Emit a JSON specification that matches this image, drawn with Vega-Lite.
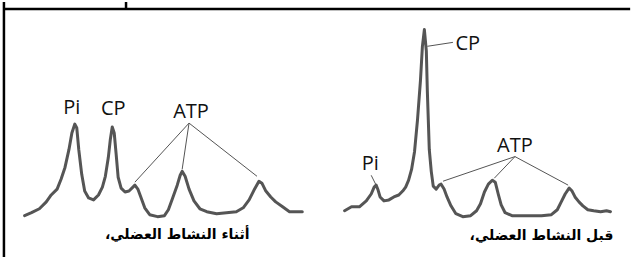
{
  "$schema": "https://vega.github.io/schema/vega-lite/v6.json",
  "autosize": {"type": "fit", "contains": "padding"},
  "width": 640,
  "height": 259,
  "padding": 0,
  "background": "white",
  "config": {"view": {"stroke": null}},
  "datasets": {
    "spectra": [
      {"s":"during","x":25,"y":217},{"s":"during","x":32,"y":214},{"s":"during","x":40,"y":210},{"s":"during","x":47,"y":203},{"s":"during","x":52,"y":196},{"s":"during","x":58,"y":190},{"s":"during","x":62,"y":180},{"s":"during","x":66,"y":168},{"s":"during","x":70,"y":150},{"s":"during","x":73,"y":133},{"s":"during","x":76,"y":124},{"s":"during","x":78,"y":128},{"s":"during","x":80,"y":150},{"s":"during","x":83,"y":175},{"s":"during","x":86,"y":192},{"s":"during","x":90,"y":199},{"s":"during","x":95,"y":201},{"s":"during","x":100,"y":196},{"s":"during","x":104,"y":188},{"s":"during","x":107,"y":177},{"s":"during","x":110,"y":158},{"s":"during","x":112,"y":140},{"s":"during","x":114,"y":127},{"s":"during","x":116,"y":133},{"s":"during","x":118,"y":155},{"s":"during","x":120,"y":178},{"s":"during","x":123,"y":189},{"s":"during","x":127,"y":193},{"s":"during","x":131,"y":192},{"s":"during","x":135,"y":188},{"s":"during","x":137,"y":186},{"s":"during","x":140,"y":190},{"s":"during","x":143,"y":198},{"s":"during","x":147,"y":209},{"s":"during","x":152,"y":216},{"s":"during","x":160,"y":218},{"s":"during","x":167,"y":217},{"s":"during","x":171,"y":211},{"s":"during","x":175,"y":200},{"s":"during","x":180,"y":186},{"s":"during","x":183,"y":176},{"s":"during","x":185,"y":172},{"s":"during","x":188,"y":177},{"s":"during","x":192,"y":190},{"s":"during","x":197,"y":202},{"s":"during","x":203,"y":210},{"s":"during","x":210,"y":213},{"s":"during","x":220,"y":215},{"s":"during","x":230,"y":214},{"s":"during","x":240,"y":213},{"s":"during","x":247,"y":209},{"s":"during","x":253,"y":201},{"s":"during","x":258,"y":191},{"s":"during","x":263,"y":182},{"s":"during","x":266,"y":184},{"s":"during","x":270,"y":192},{"s":"during","x":275,"y":198},{"s":"during","x":280,"y":203},{"s":"during","x":287,"y":208},{"s":"during","x":294,"y":213},{"s":"during","x":300,"y":213},{"s":"during","x":307,"y":213},
      {"s":"before","x":350,"y":212},{"s":"before","x":357,"y":208},{"s":"before","x":365,"y":208},{"s":"before","x":372,"y":202},{"s":"before","x":377,"y":195},{"s":"before","x":380,"y":188},{"s":"before","x":382,"y":186},{"s":"before","x":384,"y":191},{"s":"before","x":386,"y":198},{"s":"before","x":390,"y":202},{"s":"before","x":395,"y":201},{"s":"before","x":400,"y":198},{"s":"before","x":405,"y":196},{"s":"before","x":409,"y":192},{"s":"before","x":412,"y":188},{"s":"before","x":415,"y":181},{"s":"before","x":418,"y":170},{"s":"before","x":421,"y":152},{"s":"before","x":424,"y":120},{"s":"before","x":427,"y":80},{"s":"before","x":429,"y":45},{"s":"before","x":431,"y":28},{"s":"before","x":433,"y":50},{"s":"before","x":434,"y":90},{"s":"before","x":435,"y":120},{"s":"before","x":436,"y":150},{"s":"before","x":438,"y":172},{"s":"before","x":440,"y":187},{"s":"before","x":443,"y":190},{"s":"before","x":446,"y":186},{"s":"before","x":448,"y":185},{"s":"before","x":451,"y":190},{"s":"before","x":454,"y":198},{"s":"before","x":458,"y":207},{"s":"before","x":463,"y":215},{"s":"before","x":470,"y":218},{"s":"before","x":478,"y":217},{"s":"before","x":484,"y":212},{"s":"before","x":488,"y":205},{"s":"before","x":492,"y":193},{"s":"before","x":496,"y":185},{"s":"before","x":500,"y":181},{"s":"before","x":503,"y":183},{"s":"before","x":506,"y":195},{"s":"before","x":509,"y":206},{"s":"before","x":513,"y":214},{"s":"before","x":520,"y":217},{"s":"before","x":530,"y":217},{"s":"before","x":540,"y":217},{"s":"before","x":550,"y":217},{"s":"before","x":560,"y":216},{"s":"before","x":566,"y":211},{"s":"before","x":570,"y":203},{"s":"before","x":574,"y":195},{"s":"before","x":578,"y":189},{"s":"before","x":581,"y":192},{"s":"before","x":584,"y":198},{"s":"before","x":588,"y":203},{"s":"before","x":592,"y":207},{"s":"before","x":597,"y":211},{"s":"before","x":603,"y":212},{"s":"before","x":610,"y":213},{"s":"before","x":616,"y":212},{"s":"before","x":620,"y":213}
    ],
    "connectors": [
      {"x":192,"y":123,"x2":137,"y2":183},{"x":192,"y":123,"x2":185,"y2":170},{"x":192,"y":123,"x2":261,"y2":177},
      {"x":523,"y":157,"x2":450,"y2":182},{"x":523,"y":157,"x2":502,"y2":179},{"x":523,"y":157,"x2":577,"y2":186},
      {"x":377,"y":176,"x2":382,"y2":186},{"x":434,"y":45,"x2":460,"y2":41}
    ],
    "frame": [
      {"x":4,"y":7,"x2":640,"y2":7},{"x":4,"y":0,"x2":4,"y2":259},{"x":128,"y":0,"x2":128,"y2":7}
    ],
    "peaklabels": [
      {"t":"Pi","x":73,"y":108},{"t":"CP","x":115,"y":109},{"t":"ATP","x":194,"y":112},
      {"t":"Pi","x":376,"y":165},{"t":"ATP","x":523,"y":146},{"t":"CP","x":475,"y":43}
    ],
    "captions": [
      {"t":"أثناء النشاط العضلي،\u200f","x":180,"y":237},{"t":"قبل النشاط العضلي،\u200f","x":550,"y":238}
    ]
  },
  "layer": [
    {
      "data": {"name": "frame"},
      "mark": {"type": "rule", "color": "#000", "strokeWidth": 2.5},
      "encoding": {
        "x": {"field": "x", "type": "quantitative", "scale": {"domain": [0, 640]}, "axis": null},
        "y": {"field": "y", "type": "quantitative", "scale": {"domain": [0, 259], "reverse": true}, "axis": null},
        "x2": {"field": "x2"},
        "y2": {"field": "y2"}
      }
    },
    {
      "data": {"name": "connectors"},
      "mark": {"type": "rule", "color": "#555", "strokeWidth": 1},
      "encoding": {
        "x": {"field": "x", "type": "quantitative"},
        "y": {"field": "y", "type": "quantitative"},
        "x2": {"field": "x2"},
        "y2": {"field": "y2"}
      }
    },
    {
      "data": {"name": "spectra"},
      "mark": {"type": "line", "color": "#555", "strokeWidth": 3, "strokeJoin": "round", "strokeCap": "round"},
      "encoding": {
        "x": {"field": "x", "type": "quantitative"},
        "y": {"field": "y", "type": "quantitative"},
        "detail": {"field": "s"}
      }
    },
    {
      "data": {"name": "peaklabels"},
      "mark": {"type": "text", "font": "Open Sans", "fontSize": 20, "color": "#111", "align": "center", "baseline": "middle"},
      "encoding": {
        "x": {"field": "x", "type": "quantitative"},
        "y": {"field": "y", "type": "quantitative"},
        "text": {"field": "t"}
      }
    },
    {
      "data": {"name": "captions"},
      "mark": {"type": "text", "font": "DejaVu Sans", "fontSize": 14, "fontWeight": "bold", "color": "#000", "align": "center", "baseline": "middle"},
      "encoding": {
        "x": {"field": "x", "type": "quantitative"},
        "y": {"field": "y", "type": "quantitative"},
        "text": {"field": "t"}
      }
    }
  ]
}
